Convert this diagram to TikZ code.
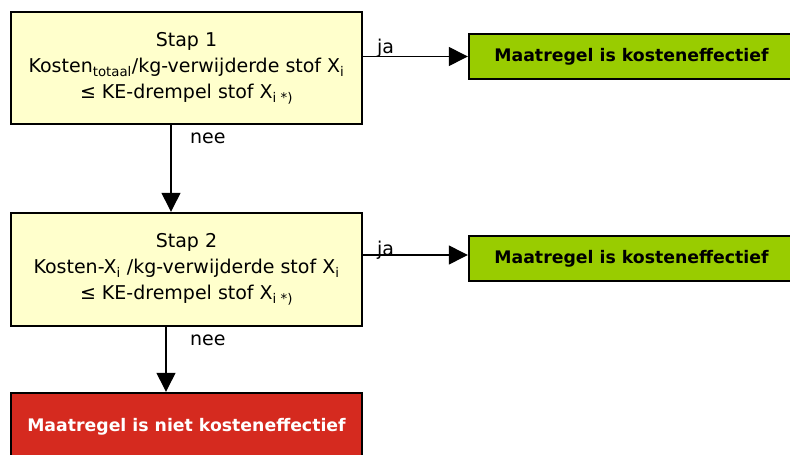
\documentclass[tikz,border=0pt]{standalone}
\usepackage{fontspec}
\setmainfont{DejaVu Sans}
\usetikzlibrary{arrows.meta}
\definecolor{stepfill}{HTML}{FFFFCC}
\definecolor{okfill}{HTML}{99CC00}
\definecolor{nokfill}{HTML}{D52A1F}
\tikzset{
  stepbox/.style={draw=black, line width=2.4pt, fill=stepfill, align=center,
    minimum width=351pt, inner sep=0pt,
    font=\fontsize{19}{26}\selectfont},
  okbox/.style={draw=black, line width=2.4pt, fill=okfill,
    minimum width=325pt, minimum height=45pt, inner sep=0pt,
    font=\fontsize{17.3}{20}\selectfont\bfseries},
  nokbox/.style={draw=black, line width=2.4pt, fill=nokfill, text=white,
    minimum width=351pt, minimum height=68pt, inner sep=0pt,
    font=\fontsize{17.3}{20}\selectfont\bfseries},
  flow/.style={line width=1.3pt, -{Triangle[length=19pt,width=19pt]}},
  lbl/.style={font=\fontsize{19}{22}\selectfont, inner sep=0pt}
}
\begin{document}
\begin{tikzpicture}[x=1pt,y=-1pt]
  \clip (0,0) rectangle (790,455);
  \fill[white] (0,0) rectangle (790,455);

  % decision steps
  \node[stepbox, minimum height=112pt] (s1) at (186.5,68)
    {Stap 1\\Kosten\textsubscript{totaal}/kg-verwijderde stof X\textsubscript{i}\\%
     ≤ KE-drempel stof X\textsubscript{i *)}};
  \node[stepbox, minimum height=113pt] (s2) at (186.5,269.5)
    {Stap 2\\Kosten-X\textsubscript{i} /kg-verwijderde stof X\textsubscript{i}\\%
     ≤ KE-drempel stof X\textsubscript{i *)}};

  % outcomes
  \node[okbox] (g1) at (631.5,56.5) {Maatregel is kosteneffectief};
  \node[okbox] (g2) at (631.5,258.5) {Maatregel is kosteneffectief};
  \node[nokbox] (r) at (186.5,427) {Maatregel is niet kosteneffectief};

  % connectors
  \draw[flow] (s1.east |- g1.west) -- (g1.west);
  \draw[flow] (s2.east |- 0,255) -- (g2.west |- 0,255);
  \draw[flow] ([xshift=-15.5pt]s1.south) -- ([xshift=-15.5pt]s2.north);
  \draw[flow] ([xshift=-20.5pt]s2.south) -- ([xshift=-20.5pt]r.north);

  % labels
  \node[lbl, anchor=base west] (ja1) at (377,53) {ja};
  \node[lbl, anchor=base west] (ja2) at (377,255) {ja};
  \node[lbl, anchor=base west] (nee1) at (190,143) {nee};
  \node[lbl, anchor=base west] (nee2) at (190,345) {nee};
\end{tikzpicture}
\end{document}
